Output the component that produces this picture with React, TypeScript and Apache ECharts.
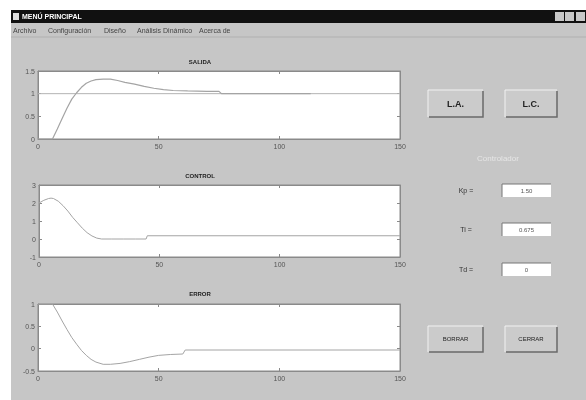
import React, { useEffect, useRef } from "react";
import * as echarts from "echarts";

const xTicks = [0, 50, 100, 150];

const salidaT = [0, 6, 8, 10, 12, 14, 16, 18, 20, 22, 24, 27, 30, 33, 36, 40, 44, 48, 52, 56, 62, 70, 75, 76, 113];
const salidaV = [0, 0, 0.22, 0.45, 0.68, 0.88, 1.02, 1.14, 1.23, 1.28, 1.31, 1.32, 1.32, 1.29, 1.25, 1.21, 1.16, 1.12, 1.09, 1.07, 1.06, 1.05, 1.05, 1.0, 1.0];
const referenciaT = [0, 150];
const referenciaV = [1, 1];

const controlT = [0, 2, 4, 5, 6, 8, 10, 12, 14, 16, 18, 20, 22, 24, 26, 30, 35, 40, 44.5, 45, 150];
const controlV = [2.0, 2.15, 2.25, 2.27, 2.25, 2.1, 1.85, 1.55, 1.2, 0.9, 0.6, 0.35, 0.17, 0.05, 0.0, 0.0, 0.0, 0.0, 0.0, 0.18, 0.18];

const errorT = [0, 6, 8, 10, 12, 14, 16, 18, 20, 22, 24, 27, 30, 34, 38, 42, 46, 50, 55, 60, 61, 150];
const errorV = [1, 1, 0.82, 0.62, 0.43, 0.25, 0.1, -0.04, -0.15, -0.24, -0.3, -0.35, -0.35, -0.33, -0.29, -0.24, -0.19, -0.15, -0.13, -0.12, -0.03, -0.03];

const menuItems = ["Archivo", "Configuración", "Diseño", "Análisis Dinámico", "Acerca de"];
const paramLabels = ["Kp =", "Ti =", "Td ="];
const paramValues = ["1.50", "0.675", "0"];

const pairs = (t: number[], v: number[]) => t.map((x, i) => [x, v[i]]);

const FONT = "Liberation Sans, Arial, sans-serif";
const GRAY = "#c6c6c6";

function txt(text: string, x: number, y: number, opts: any = {}) {
  const align = opts.align || "left";
  return {
    type: "text",
    x,
    y,
    z: 20,
    silent: true,
    style: {
      text,
      fill: opts.fill || "#333",
      font: `${opts.weight || "normal"} ${opts.size || 7}px ${FONT}`,
      textAlign: align,
      align,
      textVerticalAlign: "middle",
      verticalAlign: "middle",
    },
  };
}

function button(x: number, y: number, w: number, h: number, label: string, size: number) {
  return [
    { type: "rect", z: 10, shape: { x, y, width: w, height: h }, style: { fill: "#cbcbcb", stroke: null } },
    { type: "polyline", z: 11, shape: { points: [[x, y + h], [x, y], [x + w, y]] }, style: { stroke: "#f2f2f2", lineWidth: 1, fill: null } },
    { type: "polyline", z: 11, shape: { points: [[x + 1, y + h], [x + w, y + h], [x + w, y + 1]] }, style: { stroke: "#6a6a6a", lineWidth: 1.5, fill: null } },
    txt(label, x + w / 2, y + h / 2, { align: "center", size, fill: "#222", weight: size > 8 ? "bold" : "normal" }),
  ];
}

function textBox(x: number, y: number, w: number, h: number, value: string) {
  return [
    { type: "rect", z: 10, shape: { x, y, width: w, height: h }, style: { fill: "#ffffff", stroke: null } },
    { type: "polyline", z: 11, shape: { points: [[x, y + h], [x, y], [x + w, y]] }, style: { stroke: "#777", lineWidth: 1, fill: null } },
    txt(value, x + w / 2, y + h / 2 + 0.5, { align: "center", size: 6, fill: "#555" }),
  ];
}

export default function App() {
  const ref = useRef<HTMLDivElement>(null);
  useEffect(() => {
    if (!ref.current) return;
    const chart = echarts.init(ref.current, null, { renderer: "svg" });

    const grids = [
      { left: 38, top: 71, width: 362, height: 68 },
      { left: 39, top: 185, width: 361, height: 72 },
      { left: 38, top: 304, width: 362, height: 67 },
    ];
    const yRanges = [
      { min: 0, max: 1.5, interval: 0.5 },
      { min: -1, max: 3, interval: 1 },
      { min: -0.5, max: 1, interval: 0.5 },
    ];
    const titles = ["SALIDA", "CONTROL", "ERROR"];
    const titleY = [62, 176, 294];

    const axisLine = { show: true, onZero: false, lineStyle: { color: "#8a8a8a", width: 1 } };
    const axisTick = { show: true, inside: true, length: 3, lineStyle: { color: "#8a8a8a" } };
    const label = { fontSize: 7, color: "#555", fontFamily: FONT };

    const xAxis: any[] = [];
    const yAxis: any[] = [];
    grids.forEach((g, i) => {
      xAxis.push({
        type: "value", gridIndex: i, min: 0, max: 150, interval: 50, position: "bottom",
        axisLine, axisTick, splitLine: { show: false },
        axisLabel: { ...label, margin: 4, formatter: (v: number) => (xTicks.includes(v) ? String(v) : "") },
      });
      xAxis.push({
        type: "value", gridIndex: i, min: 0, max: 150, interval: 50, position: "top",
        axisLine, axisTick, splitLine: { show: false }, axisLabel: { show: false },
      });
      yAxis.push({
        type: "value", gridIndex: i, ...yRanges[i], position: "left",
        axisLine, axisTick, splitLine: { show: false },
        axisLabel: { ...label, margin: 3 },
      });
      yAxis.push({
        type: "value", gridIndex: i, ...yRanges[i], position: "right",
        axisLine, axisTick, splitLine: { show: false }, axisLabel: { show: false },
      });
    });

    const lineSeries = (data: number[][], gi: number, color = "#a4a4a4", width = 1) => ({
      type: "line", xAxisIndex: gi * 2, yAxisIndex: gi * 2, data, showSymbol: false, symbol: "none",
      silent: true, lineStyle: { color, width }, z: 5,
    });

    const graphic: any[] = [
      { type: "rect", z: -100, shape: { x: 0, y: 0, width: 586, height: 400 }, style: { fill: "#ffffff" } },
      { type: "rect", z: -90, shape: { x: 11, y: 10, width: 575, height: 390 }, style: { fill: GRAY } },
      { type: "rect", z: 10, shape: { x: 11, y: 10, width: 575, height: 13 }, style: { fill: "#111111" } },
      { type: "rect", z: 11, shape: { x: 13, y: 13, width: 6, height: 7 }, style: { fill: "#dddddd" } },
      txt("MENÚ PRINCIPAL", 22, 16.5, { fill: "#ffffff", weight: "bold", size: 7 }),
      { type: "rect", z: 11, shape: { x: 555, y: 12, width: 9, height: 9 }, style: { fill: "#c8c8c8" } },
      { type: "rect", z: 11, shape: { x: 565, y: 12, width: 9, height: 9 }, style: { fill: "#c8c8c8" } },
      { type: "rect", z: 11, shape: { x: 576, y: 12, width: 9, height: 9 }, style: { fill: "#c8c8c8" } },
      { type: "line", z: 11, shape: { x1: 11, y1: 37, x2: 586, y2: 37 }, style: { stroke: "#b0b0b0", lineWidth: 1 } },
    ];
    const menuX = [13, 48, 104, 137, 199];
    menuItems.forEach((m, i) => graphic.push(txt(m, menuX[i], 30, { size: 7, fill: "#444" })));
    titles.forEach((t, i) => graphic.push(txt(t, 200, titleY[i], { align: "center", size: 6, fill: "#222", weight: "bold" })));
    graphic.push(...button(428, 90, 55, 27, "L.A.", 9));
    graphic.push(...button(505, 90, 52, 27, "L.C.", 9));
    graphic.push(...button(428, 326, 55, 26, "BORRAR", 6));
    graphic.push(...button(505, 326, 52, 26, "CERRAR", 6));
    graphic.push(txt("Controlador", 498, 158, { align: "center", size: 8, fill: "#e6e6e6" }));
    const rowY = [184, 223, 263];
    paramLabels.forEach((p, i) => {
      graphic.push(txt(p, 466, rowY[i] + 6, { align: "center", size: 7, fill: "#333" }));
      graphic.push(...textBox(502, rowY[i], 49, 13, paramValues[i]));
    });

    chart.setOption({
      animation: false,
      grid: grids.map((g) => ({ ...g, show: true, backgroundColor: "#ffffff", borderColor: "#8a8a8a", borderWidth: 1, containLabel: false })),
      xAxis,
      yAxis,
      series: [
        lineSeries(pairs(referenciaT, referenciaV), 0, "#b4b4b4"),
        lineSeries(pairs(salidaT, salidaV), 0, "#a4a4a4", 1.2),
        lineSeries(pairs(controlT, controlV), 1),
        lineSeries(pairs(errorT, errorV), 2),
      ],
      graphic,
    });
    return () => chart.dispose();
  }, []);
  return <div ref={ref} style={{ position: "fixed", left: 0, top: 0, width: 586, height: 400 }} />;
}
